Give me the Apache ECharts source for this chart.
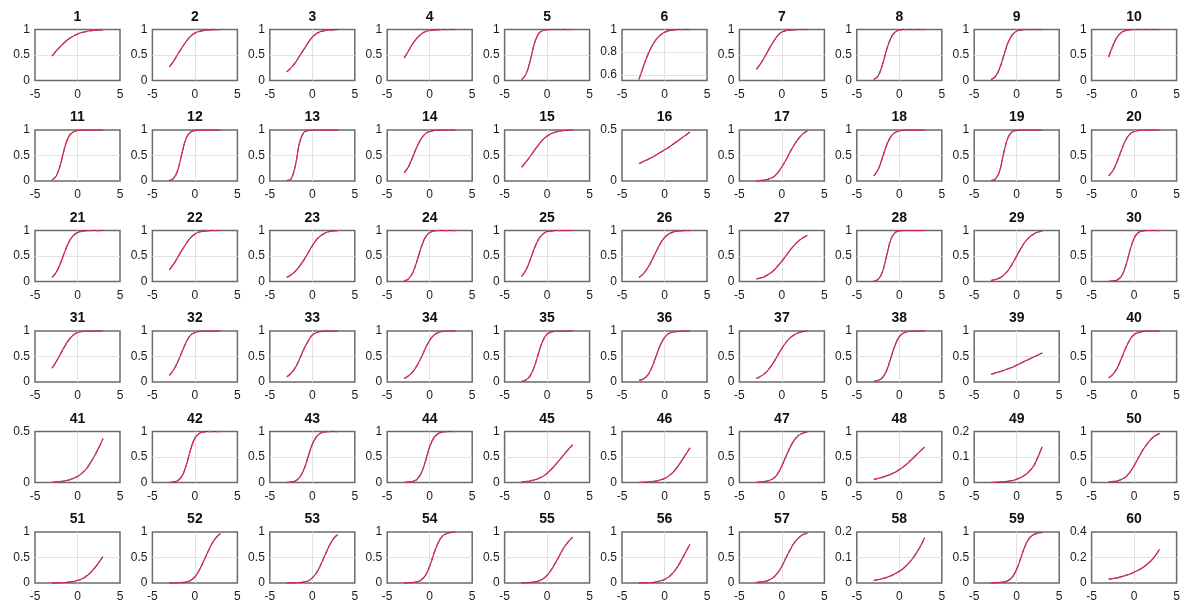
<!DOCTYPE html>
<html>
<head>
<meta charset="utf-8">
<title>Item curves</title>
<script src="https://cdn.jsdelivr.net/npm/echarts@6/dist/echarts.min.js"></script>
<style>
  html, body { margin: 0; padding: 0; background: #fff; }
  #main { width: 1185px; height: 608px; }
</style>
</head>
<body>
<div id="main"></div>
<script>
  const xs = [-3, -2.5, -2, -1.5, -1, -0.5, 0, 0.5, 1, 1.5, 2, 2.5, 3];

  // probability read for each item (1..60), one row of 13 values per item
  const curves = [
    [0.48,0.58,0.67,0.75,0.82,0.87,0.91,0.94,0.96,0.975,0.985,0.99,0.995],
    [0.27,0.38,0.52,0.65,0.77,0.87,0.93,0.96,0.98,0.99,0.995,0.998,1],
    [0.17,0.25,0.35,0.48,0.61,0.74,0.85,0.92,0.96,0.98,0.99,0.995,1],
    [0.44,0.58,0.72,0.83,0.91,0.96,0.98,0.99,0.995,1,1,1,1],
    [0.02,0.12,0.38,0.72,0.92,0.98,0.995,1,1,1,1,1,1],
    [0.56,0.67,0.77,0.85,0.91,0.95,0.975,0.99,0.995,1,1,1,1],
    [0.22,0.33,0.47,0.62,0.76,0.88,0.95,0.98,0.99,0.997,1,1,1],
    [0.02,0.09,0.3,0.6,0.83,0.95,0.99,1,1,1,1,1,1],
    [0.02,0.08,0.24,0.5,0.75,0.9,0.97,0.99,1,1,1,1,1],
    [0.46,0.68,0.85,0.94,0.98,0.995,1,1,1,1,1,1,1],
    // 11-20
    [0.02,0.1,0.33,0.66,0.88,0.96,0.99,1,1,1,1,1,1],
    [0.01,0.05,0.22,0.56,0.85,0.96,0.99,1,1,1,1,1,1],
    [0.01,0.04,0.3,0.75,0.95,0.99,1,1,1,1,1,1,1],
    [0.16,0.28,0.47,0.67,0.83,0.93,0.97,0.99,1,1,1,1,1],
    [0.27,0.37,0.48,0.6,0.71,0.81,0.88,0.93,0.96,0.98,0.99,0.995,1],
    [0.17,0.19,0.21,0.23,0.255,0.28,0.305,0.33,0.36,0.39,0.42,0.45,0.48],
    [0,0.01,0.02,0.04,0.08,0.16,0.28,0.42,0.58,0.72,0.84,0.93,0.98],
    [0.1,0.22,0.45,0.7,0.87,0.95,0.98,0.995,1,1,1,1,1],
    [0.01,0.04,0.2,0.57,0.86,0.97,0.99,1,1,1,1,1,1],
    [0.1,0.2,0.38,0.6,0.8,0.92,0.97,0.99,1,1,1,1,1],
    // 21-30
    [0.08,0.18,0.36,0.58,0.78,0.9,0.96,0.985,0.995,1,1,1,1],
    [0.23,0.34,0.48,0.62,0.75,0.86,0.93,0.97,0.985,0.995,1,1,1],
    [0.08,0.13,0.2,0.3,0.42,0.56,0.7,0.82,0.9,0.95,0.98,0.99,1],
    [0.01,0.05,0.17,0.4,0.67,0.87,0.96,0.99,1,1,1,1,1],
    [0.1,0.22,0.42,0.65,0.83,0.93,0.98,0.99,1,1,1,1,1],
    [0.08,0.15,0.26,0.41,0.58,0.74,0.86,0.93,0.97,0.99,0.995,1,1],
    [0.05,0.07,0.1,0.15,0.21,0.3,0.4,0.51,0.62,0.72,0.8,0.86,0.9],
    [0.01,0.04,0.18,0.5,0.82,0.96,0.99,1,1,1,1,1,1],
    [0.02,0.04,0.07,0.13,0.22,0.35,0.5,0.65,0.78,0.87,0.93,0.97,0.99],
    [0,0.01,0.03,0.1,0.3,0.6,0.85,0.96,0.99,1,1,1,1],
    // 31-40
    [0.27,0.4,0.55,0.7,0.83,0.92,0.97,0.99,1,1,1,1,1],
    [0.13,0.24,0.4,0.6,0.79,0.92,0.97,0.99,1,1,1,1,1],
    [0.1,0.17,0.28,0.45,0.64,0.8,0.92,0.97,0.99,1,1,1,1],
    [0.07,0.12,0.2,0.32,0.48,0.66,0.82,0.92,0.97,0.99,1,1,1],
    [0.01,0.04,0.12,0.3,0.57,0.81,0.94,0.98,0.995,1,1,1,1],
    [0.03,0.06,0.13,0.28,0.5,0.72,0.87,0.95,0.98,0.99,1,1,1],
    [0.07,0.11,0.17,0.26,0.38,0.52,0.66,0.78,0.87,0.93,0.97,0.99,1],
    [0.01,0.03,0.08,0.22,0.47,0.72,0.89,0.96,0.99,1,1,1,1],
    [0.15,0.18,0.2,0.23,0.26,0.29,0.33,0.37,0.41,0.45,0.49,0.53,0.57],
    [0.08,0.15,0.27,0.46,0.66,0.83,0.93,0.97,0.99,1,1,1,1],
    // 41-50
    [0,0.005,0.01,0.015,0.025,0.04,0.06,0.09,0.13,0.19,0.26,0.34,0.43],
    [0,0.01,0.04,0.13,0.35,0.65,0.87,0.96,0.99,1,1,1,1],
    [0,0.01,0.03,0.1,0.25,0.5,0.75,0.9,0.97,0.99,1,1,1],
    [0,0.01,0.02,0.06,0.18,0.42,0.7,0.88,0.96,0.99,1,1,1],
    [0.01,0.02,0.03,0.05,0.08,0.12,0.18,0.26,0.35,0.45,0.55,0.65,0.74],
    [0,0.005,0.01,0.02,0.03,0.05,0.08,0.13,0.2,0.3,0.42,0.55,0.68],
    [0,0.01,0.02,0.04,0.08,0.17,0.33,0.52,0.7,0.84,0.93,0.97,0.99],
    [0.06,0.08,0.1,0.13,0.16,0.2,0.25,0.31,0.38,0.46,0.54,0.62,0.7],
    [0,0.001,0.002,0.003,0.005,0.008,0.013,0.02,0.03,0.045,0.065,0.1,0.14],
    [0.01,0.02,0.03,0.06,0.11,0.2,0.33,0.48,0.63,0.75,0.85,0.92,0.96],
    // 51-60
    [0,0,0.005,0.01,0.02,0.03,0.05,0.08,0.13,0.2,0.29,0.4,0.52],
    [0,0,0.005,0.01,0.02,0.05,0.12,0.25,0.42,0.6,0.77,0.89,0.97],
    [0,0,0.005,0.01,0.02,0.04,0.1,0.2,0.36,0.55,0.73,0.87,0.95],
    [0,0.005,0.01,0.02,0.06,0.15,0.33,0.58,0.79,0.92,0.97,0.99,1],
    [0,0.005,0.01,0.02,0.04,0.08,0.15,0.26,0.4,0.55,0.7,0.81,0.9],
    [0,0,0.005,0.01,0.02,0.04,0.07,0.12,0.2,0.31,0.45,0.61,0.76],
    [0.01,0.02,0.03,0.06,0.11,0.2,0.33,0.5,0.66,0.8,0.89,0.95,0.98],
    [0.01,0.013,0.017,0.022,0.028,0.036,0.046,0.058,0.074,0.093,0.117,0.145,0.178],
    [0,0.005,0.01,0.02,0.05,0.12,0.27,0.5,0.73,0.88,0.95,0.98,0.99],
    [0.03,0.035,0.04,0.05,0.06,0.07,0.085,0.1,0.12,0.145,0.175,0.215,0.265]
  ];

  // panels whose y axis is not 0..1  -> [min, max, interval]
  const yRange = {
    6:  [0.55, 1, 0.05],
    16: [0, 0.5, 0.5],
    41: [0, 0.5, 0.5],
    49: [0, 0.2, 0.1],
    58: [0, 0.2, 0.1],
    60: [0, 0.4, 0.2]
  };
  const panel6Ticks = [0.6, 0.8, 1];

  const font = 'Liberation Sans, Arial, sans-serif';
  const gridColor = '#e2e2e2';

  function panel6Label(v) {
    for (var k = 0; k < panel6Ticks.length; k++) {
      if (Math.abs(v - panel6Ticks[k]) < 1e-6) return String(panel6Ticks[k]);
    }
    return '';
  }

  // inner grid lines (x = 0 and the y ticks between min and max)
  function gridLines(n, yr) {
    var lines = [{ xAxis: 0 }];
    if (n === 6) {
      lines.push({ yAxis: 0.6 }, { yAxis: 0.8 });
    } else {
      for (var v = yr[0] + yr[2]; v < yr[1] - 1e-9; v += yr[2]) lines.push({ yAxis: v });
    }
    return lines;
  }

  function curveSeries(i, color, width, dash, z) {
    return {
      type: 'line', xAxisIndex: i, yAxisIndex: i, z: z,
      data: xs.map(function (x, k) { return [x, curves[i][k]]; }),
      showSymbol: false, smooth: 0.4, silent: true,
      lineStyle: { color: color, width: width, type: dash }
    };
  }

  function buildOption() {
    var grids = [], xAxes = [], yAxes = [], titles = [], series = [];
    for (var i = 0; i < curves.length; i++) {
      var n = i + 1;
      var col = i % 10, row = Math.floor(i / 10);
      var gx = 35 + 117.4 * col;
      var gy = 29.5 + 100.5 * row;
      var w = 85, h = 51;
      var yr = yRange[n] || [0, 1, 0.5];

      grids.push({
        left: gx, top: gy, width: w, height: h,
        show: true, borderColor: '#6b6b6b', borderWidth: 1.5,
        outerBoundsMode: 'none'
      });
      titles.push({
        text: String(n), left: gx + w / 2, top: gy - 19.5, textAlign: 'center', padding: 0,
        textStyle: { fontFamily: font, fontSize: 14, fontWeight: 'bold', color: '#111' }
      });
      xAxes.push({
        gridIndex: i, type: 'value', min: -5, max: 5, interval: 5,
        axisLine: { show: false }, axisTick: { show: false },
        axisLabel: { margin: 8, fontFamily: font, fontSize: 12, color: '#1a1a1a' },
        splitLine: { show: false }
      });
      var yAxis = {
        gridIndex: i, type: 'value', min: yr[0], max: yr[1], interval: yr[2],
        axisLine: { show: false }, axisTick: { show: false },
        axisLabel: { margin: 5, fontFamily: font, fontSize: 12, color: '#1a1a1a' },
        splitLine: { show: false }
      };
      if (n === 6) yAxis.axisLabel.formatter = panel6Label;
      yAxes.push(yAxis);

      var s1 = curveSeries(i, '#7c2848', 1.1, 'solid', 3);
      s1.markLine = {
        silent: true, symbol: 'none', label: { show: false }, animation: false, z: 1,
        lineStyle: { color: gridColor, type: 'solid', width: 1 },
        emphasis: { disabled: true },
        data: gridLines(n, yr)
      };
      series.push(s1);
      series.push(curveSeries(i, '#e8304f', 1.3, 'dashed', 4));
    }
    return {
      backgroundColor: '#fff',
      animation: false,
      title: titles,
      grid: grids,
      xAxis: xAxes,
      yAxis: yAxes,
      series: series
    };
  }

  var chart = echarts.init(document.getElementById('main'));
  chart.setOption(buildOption());
</script>
</body>
</html>
